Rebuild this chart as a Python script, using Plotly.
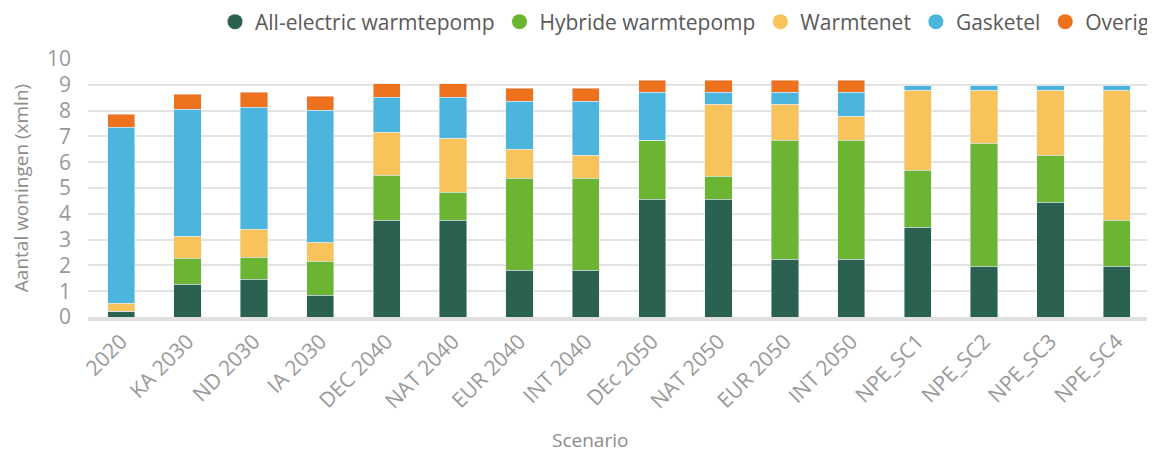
import plotly.graph_objects as go

scenarios = ['2020', 'KA 2030', 'ND 2030', 'IA 2030', 'DEC 2040', 'NAT 2040', 'EUR 2040',
             'INT 2040', 'DEc 2050', 'NAT 2050', 'EUR 2050', 'INT 2050',
             'NPE_SC1', 'NPE_SC2', 'NPE_SC3', 'NPE_SC4']

# aantal woningen (x mln) per techniek
all_electric = [0.23, 1.27, 1.46, 0.84, 3.75, 3.75, 1.81, 1.81, 4.56, 4.56, 2.24, 2.24, 3.48, 1.97, 4.45, 1.97]
hybride = [0.0, 1.01, 0.85, 1.32, 1.74, 1.08, 3.57, 3.57, 2.29, 0.89, 4.61, 4.61, 2.21, 4.76, 1.82, 1.78]
warmtenet = [0.31, 0.85, 1.09, 0.74, 1.67, 2.10, 1.12, 0.89, 0.0, 2.79, 1.39, 0.93, 3.10, 2.06, 2.52, 5.04]
gasketel = [6.81, 4.92, 4.73, 5.12, 1.36, 1.59, 1.86, 2.09, 1.86, 0.47, 0.47, 0.93, 0.19, 0.19, 0.19, 0.19]
overig = [0.51, 0.58, 0.58, 0.53, 0.53, 0.53, 0.50, 0.50, 0.46, 0.46, 0.46, 0.46, 0.0, 0.0, 0.0, 0.0]

series = [
    ('All-electric warmtepomp', all_electric, '#2a6151'),
    ('Hybride warmtepomp', hybride, '#6bb532'),
    ('Warmtenet', warmtenet, '#f9c35b'),
    ('Gasketel', gasketel, '#4cb5de'),
    ('Overig', overig, '#ee711e'),
]

FONT = 'Open Sans'
# the html page has an 8px body margin, so the figure is drawn 8px smaller
W, H = 1147, 444

fig = go.Figure()

for name, values, color in series:
    # stacked bar, legend handled by the dot traces below
    fig.add_trace(go.Bar(
        x=scenarios,
        y=values,
        name=name,
        marker_color=color,
        showlegend=False,
        hovertemplate='<b>%{x}</b><br>' + name + ': %{y:.2f} mln<extra></extra>',
    ))

for name, values, color in series:
    # round legend markers like the original
    fig.add_trace(go.Scatter(
        x=[None], y=[None],
        mode='markers',
        name=name,
        marker=dict(color=color, size=15, symbol='circle'),
    ))

fig.add_annotation(
    text='Scenario', xref='paper', yref='paper',
    x=0.473, y=-0.475, yanchor='middle', showarrow=False,
    font=dict(family=FONT, size=19, color='#8c8c8c'),
)

fig.update_layout(
    barmode='stack',
    bargap=0.59,
    width=W,
    height=H,
    margin=dict(t=51, l=80, r=5, b=135, autoexpand=False),
    plot_bgcolor='white',
    paper_bgcolor='white',
    font=dict(family=FONT, color='#8c8c8c'),
    legend=dict(
        orientation='h',
        xref='container', xanchor='right', x=1.0,
        yref='container', yanchor='middle', y=1 - 14 / H,
        font=dict(family=FONT, size=21, color='#595959'),
        itemwidth=30,
        traceorder='normal',
    ),
)

fig.update_xaxes(
    tickangle=-45,
    tickfont=dict(family=FONT, size=21, color='#999999'),
    showline=True, linecolor='#e0e0e0', linewidth=4,
    showgrid=False,
    automargin=False,
)
fig.update_yaxes(
    range=[0, 10],
    dtick=1,
    showgrid=True, gridcolor='#e3e3e3', gridwidth=2,
    zeroline=False,
    tickfont=dict(family=FONT, size=21, color='#999999'),
    ticklabelstandoff=16,
    automargin=False,
    title=dict(text='Aantal woningen (xmln)', font=dict(family=FONT, size=19, color='#8c8c8c'), standoff=16),
)

fig.write_html('out.html')
